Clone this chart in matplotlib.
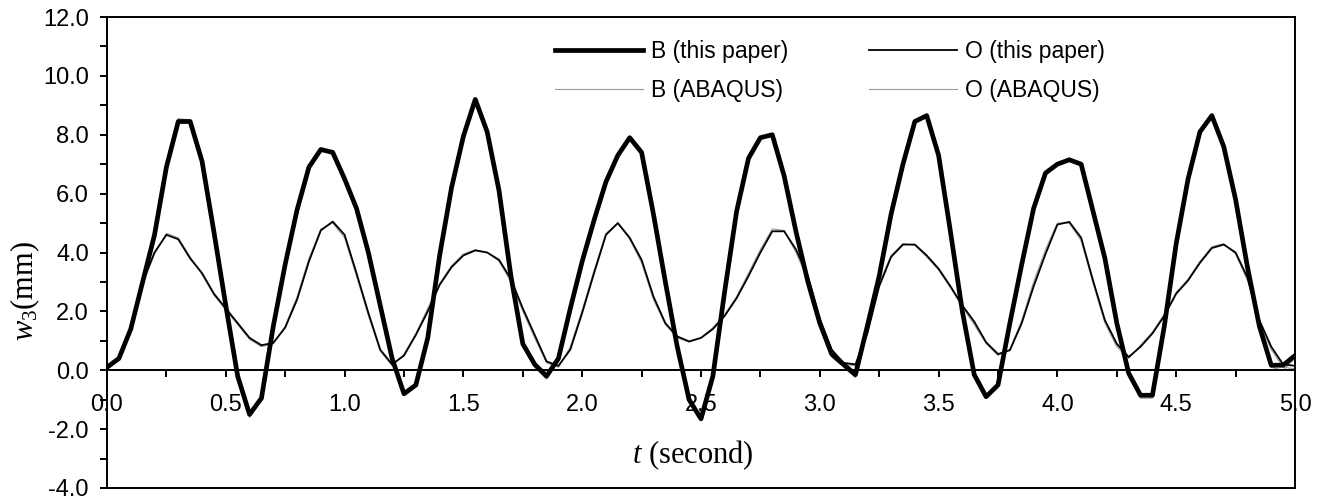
import numpy as np
import matplotlib
matplotlib.use("Agg")
import matplotlib.pyplot as plt
from matplotlib.ticker import MultipleLocator, FormatStrFormatter

plt.rcParams['font.family'] = 'Liberation Sans'
plt.rcParams['mathtext.fontset'] = 'custom'
plt.rcParams['mathtext.rm'] = 'Liberation Serif'
plt.rcParams['mathtext.it'] = 'Liberation Serif:italic'

# time (second), sampled every 0.05 s
t = np.round(np.arange(0, 5.001, 0.05), 2)

b_paper = [0.1, 0.4, 1.4, 3.0, 4.6, 6.9, 8.45, 8.45, 7.1, 4.7,
           2.2, -0.2, -1.5, -0.95, 1.5, 3.6, 5.45, 6.9, 7.5, 7.4,
           6.5, 5.5, 4.0, 2.2, 0.4, -0.8, -0.5, 1.1, 3.9, 6.2,
           7.95, 9.2, 8.1, 6.1, 3.2, 0.9, 0.2, -0.2, 0.4, 2.1,
           3.7, 5.1, 6.4, 7.3, 7.9, 7.4, 5.3, 3.0, 0.8, -1.0,
           -1.65, -0.2, 2.7, 5.4, 7.2, 7.9, 8.0, 6.6, 4.7, 3.0,
           1.6, 0.55, 0.2, -0.15, 1.5, 3.2, 5.3, 7.0, 8.45, 8.65,
           7.3, 4.7, 2.0, -0.15, -0.9, -0.5, 1.6, 3.6, 5.5, 6.7,
           7.0, 7.15, 7.0, 5.4, 3.8, 1.6, -0.1, -0.85, -0.85, 1.5,
           4.3, 6.5, 8.1, 8.65, 7.6, 5.8, 3.5, 1.5, 0.17, 0.17,
           0.5]

o_paper = [0.1, 0.4, 1.4, 3.0, 4.0, 4.6, 4.45, 3.8, 3.3, 2.6,
           2.1, 1.6, 1.1, 0.85, 0.93, 1.45, 2.4, 3.7, 4.75, 5.05,
           4.6, 3.3, 1.95, 0.7, 0.2, 0.5, 1.2, 2.0, 2.9, 3.5,
           3.9, 4.07, 4.0, 3.75, 3.1, 2.1, 1.2, 0.3, 0.15, 0.7,
           1.95, 3.3, 4.6, 5.0, 4.5, 3.75, 2.5, 1.6, 1.15, 0.98,
           1.1, 1.4, 1.85, 2.45, 3.2, 4.0, 4.72, 4.72, 4.1, 3.2,
           1.75, 0.7, 0.25, 0.2, 1.25, 2.85, 3.85, 4.27, 4.27, 3.9,
           3.45, 2.85, 2.2, 1.65, 0.95, 0.55, 0.68, 1.6, 2.85, 3.95,
           4.95, 5.04, 4.5, 3.05, 1.7, 0.9, 0.45, 0.8, 1.25, 1.85,
           2.6, 3.05, 3.65, 4.15, 4.27, 4.0, 3.15, 1.7, 0.8, 0.2,
           0.15]

b_abaqus = [0.05, 0.35, 1.3, 2.9, 4.7, 7.0, 8.55, 8.5, 7.0, 4.6,
            2.1, -0.3, -1.6, -1.0, 1.4, 3.5, 5.4, 6.9, 7.45, 7.35,
            6.4, 5.4, 3.9, 2.1, 0.3, -0.85, -0.55, 1.0, 3.8, 6.1,
            7.9, 9.15, 8.1, 6.0, 3.1, 0.8, 0.1, -0.3, 0.3, 2.0,
            3.6, 5.0, 6.3, 7.25, 7.95, 7.4, 5.2, 2.9, 0.7, -1.1,
            -1.7, -0.3, 2.6, 5.3, 7.15, 7.85, 8.05, 6.5, 4.6, 2.9,
            1.5, 0.45, 0.1, -0.25, 1.4, 3.1, 5.2, 6.9, 8.5, 8.7,
            7.2, 4.6, 1.9, -0.25, -0.95, -0.55, 1.5, 3.5, 5.4, 6.7,
            7.05, 7.2, 6.95, 5.3, 3.7, 1.5, -0.2, -0.95, -0.95, 1.4,
            4.2, 6.4, 8.15, 8.7, 7.5, 5.7, 3.4, 1.4, 0.1, 0.0,
            0.4]

o_abaqus = [0.05, 0.35, 1.3, 2.9, 3.95, 4.65, 4.5, 3.85, 3.25, 2.55,
            2.05, 1.55, 1.05, 0.8, 0.9, 1.5, 2.5, 3.8, 4.8, 5.0,
            4.5, 3.2, 1.85, 0.65, 0.15, 0.55, 1.25, 2.1, 2.95, 3.55,
            3.95, 4.1, 4.0, 3.7, 3.0, 2.0, 1.1, 0.25, 0.1, 0.8,
            2.05, 3.4, 4.65, 5.0, 4.45, 3.65, 2.4, 1.55, 1.1, 0.95,
            1.1, 1.45, 1.9, 2.5, 3.3, 4.1, 4.8, 4.75, 4.0, 3.05,
            1.65, 0.6, 0.2, 0.15, 1.35, 2.95, 3.9, 4.3, 4.25, 3.85,
            3.4, 2.8, 2.15, 1.55, 0.9, 0.5, 0.7, 1.7, 3.0, 4.1,
            5.0, 5.0, 4.4, 2.95, 1.6, 0.8, 0.4, 0.85, 1.3, 1.9,
            2.65, 3.1, 3.7, 4.2, 4.3, 3.95, 3.05, 1.6, 0.7, 0.1,
            0.05]

fig = plt.figure(figsize=(13.24, 5.01), dpi=100)
ax = fig.add_axes([107 / 1324, 13 / 501, 1188 / 1324, 471 / 501])

grey = '#999999'
l3, = ax.plot(t, b_abaqus, color=grey, lw=0.8, label='B (ABAQUS)')
l4, = ax.plot(t, o_abaqus, color=grey, lw=0.8, label='O (ABAQUS)')
l1, = ax.plot(t, b_paper, color='black', lw=3.4, label='B (this paper)')
l2, = ax.plot(t, o_paper, color='black', lw=1.3, label='O (this paper)')

ax.set_xlim(0, 5)
ax.set_ylim(-4, 12)

# x axis crosses at zero, frame kept round the plot
ax.spines['bottom'].set_position(('data', 0))
for s in ax.spines.values():
    s.set_linewidth(1.4)
ax.plot([0, 5], [-4, -4], color='black', lw=1.4, clip_on=False)

ax.xaxis.set_major_locator(MultipleLocator(0.5))
ax.xaxis.set_minor_locator(MultipleLocator(0.25))
ax.yaxis.set_major_locator(MultipleLocator(2))
ax.yaxis.set_minor_locator(MultipleLocator(1))
ax.xaxis.set_major_formatter(FormatStrFormatter('%.1f'))
ax.yaxis.set_major_formatter(FormatStrFormatter('%.1f'))

ax.tick_params(axis='both', which='both', direction='out', width=1.4,
               length=5, labelsize=17, top=False, right=False)
ax.tick_params(axis='x', which='major', pad=12)
ax.tick_params(axis='y', which='major', pad=8)

ax.text(0.493, 0.07, r'$t$ (second)', transform=ax.transAxes,
        ha='center', va='center', fontsize=22, family='Liberation Serif')
ax.text(-0.069, 0.418, r'$w_3$(mm)', transform=ax.transAxes, rotation=90,
        ha='center', va='center', fontsize=22, family='Liberation Serif')

ax.legend(handles=[l1, l3, l2, l4], ncol=2, loc='upper left',
          bbox_to_anchor=(0.377, 0.952), frameon=False, fontsize=16.5,
          handlelength=3.85, handletextpad=0.35, columnspacing=3.5,
          labelspacing=0.72, borderpad=0, borderaxespad=0)

fig.savefig('out.png', dpi=100)
